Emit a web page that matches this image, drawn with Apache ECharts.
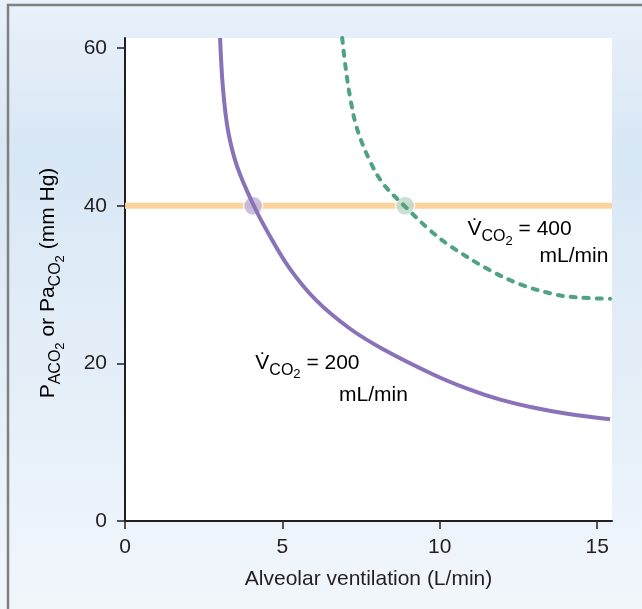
<!DOCTYPE html>
<html>
<head>
<meta charset="utf-8">
<script src="https://cdn.jsdelivr.net/npm/echarts@6/dist/echarts.min.js"></script>
<style>
  html, body { margin: 0; padding: 0; }
  #chart { width: 642px; height: 609px; }
</style>
</head>
<body>
<div id="chart"></div>
<script>
// curves (L/min, mm Hg)
const purpleX = [3.02, 3.11, 3.27, 3.56, 4.07, 4.54, 5.24, 6.10, 7.15, 8.20, 9.79, 10.87, 11.92, 12.96, 14.05, 15.41]
const purpleY = [61.3, 55.0, 49.6, 45.0, 40.2, 36.6, 32.0, 27.9, 24.4, 21.8, 18.6, 16.8, 15.4, 14.4, 13.6, 12.9]
const greenX = [6.90, 7.00, 7.15, 7.37, 7.79, 8.20, 8.90, 9.69, 10.33, 11.60, 12.65, 13.73, 14.46, 15.41]
const greenY = [61.3, 57.8, 53.8, 49.8, 45.6, 42.8, 39.9, 36.9, 34.9, 31.8, 29.9, 28.7, 28.35, 28.2]
const refLevel = 40
const refX = [0, 15.47]
const dotsX = [4.07, 8.9]
const dotColors = ['#bdb2d9', '#bcd8cb']
const xTicks = [0, 5, 10, 15]
const yTicks = [0, 20, 40, 60]

const chart = echarts.init(document.getElementById('chart'), null, { renderer: 'canvas' })
const FONT = '"Liberation Sans", Arial, "DejaVu Sans", sans-serif'
const INK = '#231f20'

const zip = (xs, ys) => xs.map((x, i) => [x, ys[i]])

const richLabel = {
  n: { fontSize: 21, lineHeight: 25, verticalAlign: 'top', color: INK, fontFamily: FONT },
  s: { fontSize: 16, lineHeight: 17, padding: [10, 0, 0, 0], verticalAlign: 'top', color: INK, fontFamily: FONT },
  s2: { fontSize: 13, lineHeight: 14, padding: [16, 0, 0, 0], verticalAlign: 'top', color: INK, fontFamily: FONT },
}

const axisCommon = {
  type: 'value',
  axisLine: { show: true, onZero: false, lineStyle: { color: INK, width: 2 } },
  axisTick: { show: true, length: 8, lineStyle: { color: INK, width: 1.5 } },
  splitLine: { show: false },
}

chart.setOption({
  animation: false,
  backgroundColor: {
    type: 'linear', x: 0, y: 0, x2: 0, y2: 1,
    colorStops: [
      { offset: 0, color: '#e9f1fa' },
      { offset: 0.25, color: '#d8e7f5' },
      { offset: 1, color: '#f1f6fb' },
    ],
  },
  grid: { left: 125, right: 30, top: 38, bottom: 88, show: true, backgroundColor: '#fff', borderWidth: 0 },
  xAxis: {
    ...axisCommon,
    min: 0, max: 15.47,
    axisTick: { ...axisCommon.axisTick, customValues: xTicks },
    axisLabel: { customValues: xTicks, margin: 16, fontSize: 21, color: INK, fontFamily: FONT },
    name: 'Alveolar ventilation (L/min)',
    nameLocation: 'middle',
    nameGap: 48,
    nameTextStyle: { fontSize: 21, color: INK, fontFamily: FONT },
  },
  yAxis: {
    ...axisCommon,
    min: 0, max: 61.3,
    axisTick: { ...axisCommon.axisTick, customValues: yTicks },
    axisLabel: { customValues: yTicks, margin: 18, fontSize: 21, color: INK, fontFamily: FONT },
  },
  series: [
    {
      type: 'line', name: 'ref', data: refX.map(x => [x, refLevel]),
      symbol: 'none', lineStyle: { color: '#fdd39b', width: 6 }, z: 1,
    },
    {
      type: 'scatter', name: 'dots', data: dotsX.map((x, i) => ({ value: [x, refLevel], itemStyle: { color: dotColors[i] } })),
      symbolSize: 19, itemStyle: { borderColor: '#fff', borderWidth: 1.5 }, z: 2,
    },
    {
      type: 'line', name: '200', data: zip(purpleX, purpleY), smooth: 0.35,
      symbol: 'none', lineStyle: { color: '#8a72b9', width: 4 }, z: 3,
    },
    {
      type: 'line', name: '400', data: zip(greenX, greenY), smooth: 0.35,
      symbol: 'none', lineStyle: { color: '#4fa384', width: 4, type: [5, 8], cap: 'round' }, z: 3,
    },
  ],
})

// annotations, placed in data space
const notes = [
  { at: [4.14, 21.4], text: '{n|V\u0307}{s|CO}{s2|2}{n| = 200}' },
  { at: [6.80, 17.3], text: '{n|mL/min}' },
  { at: [10.88, 38.4], text: '{n|V\u0307}{s|CO}{s2|2}{n| = 400}' },
  { at: [13.17, 35.0], text: '{n|mL/min}' },
]

const graphics = notes.map(nt => {
  const [px, py] = chart.convertToPixel({ gridIndex: 0 }, nt.at)
  return {
    type: 'text', x: px, y: py, z: 10,
    style: { text: nt.text, rich: richLabel, align: 'left', verticalAlign: 'top' },
  }
})

graphics.push({
  type: 'text', x: 50, y: 283, rotation: Math.PI / 2, z: 10,
  style: {
    text: '{n|P}{s|ACO}{s2|2}{n| or Pa}{s|CO}{s2|2}{n| (mm Hg)}',
    rich: richLabel, align: 'center', verticalAlign: 'middle',
  },
})

graphics.push({
  type: 'rect', shape: { x: 8, y: 5, width: 700, height: 700 },
  style: { fill: 'none', stroke: '#808080', lineWidth: 2.5 }, z: 20, silent: true,
})

chart.setOption({ graphic: graphics })

window.addEventListener('resize', () => chart.resize())
</script>
</body>
</html>
